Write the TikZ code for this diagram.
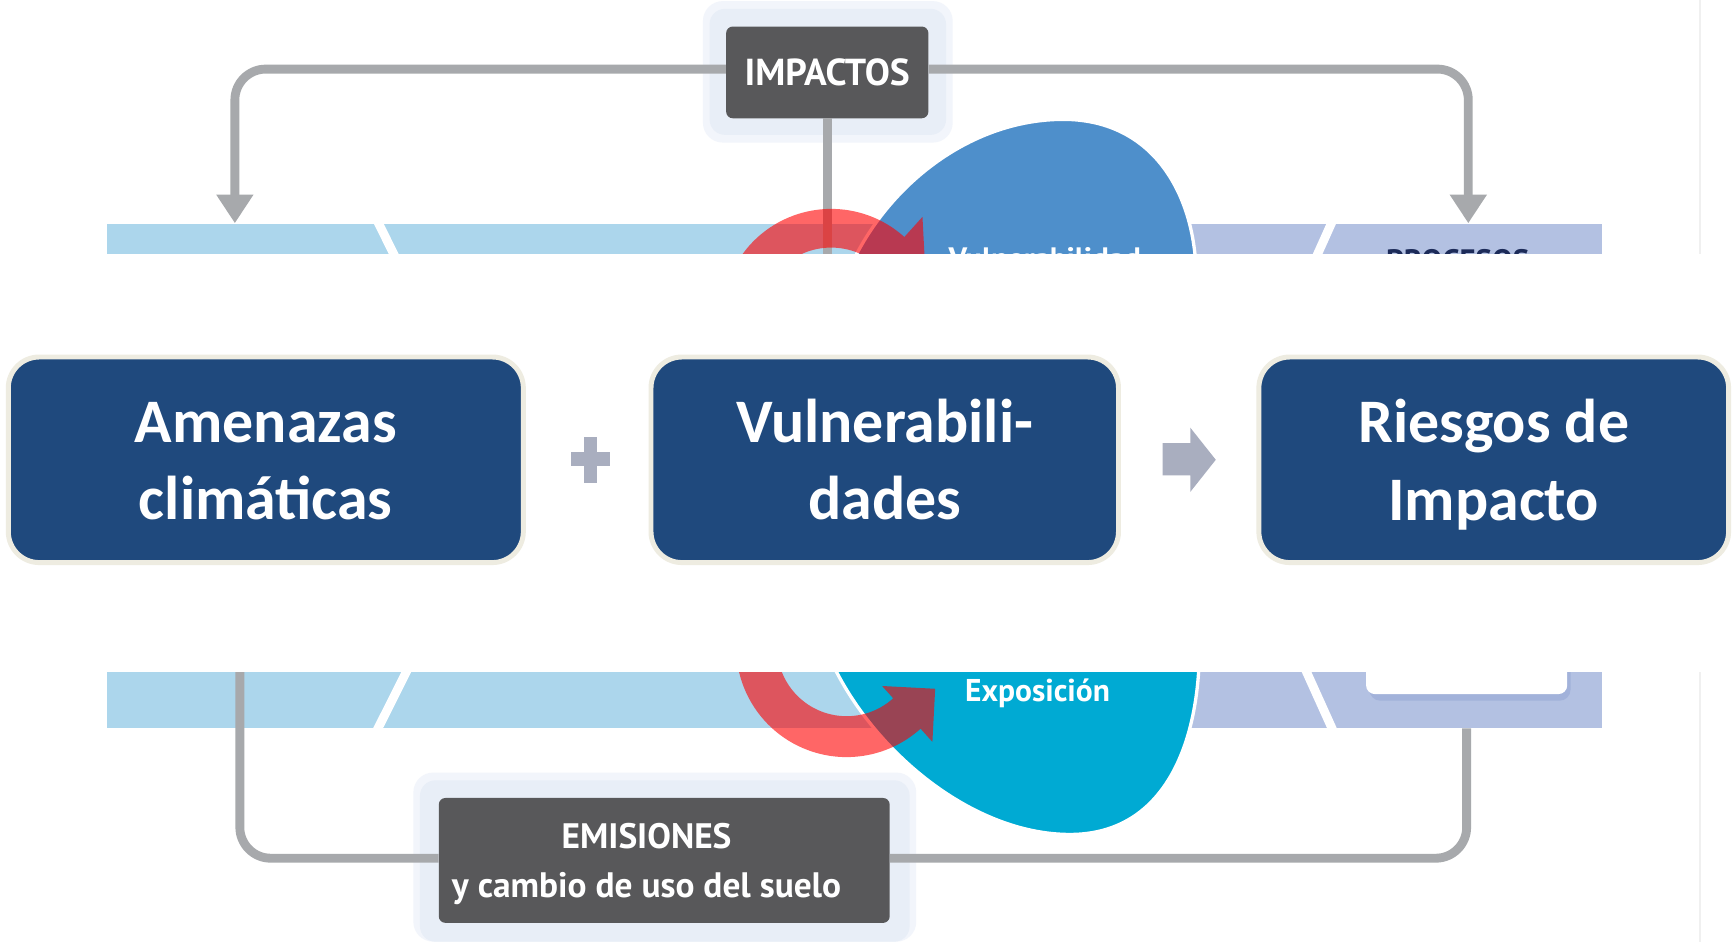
\documentclass[tikz,border=0pt]{standalone}
\usepackage{fontspec}
\newfontfamily\calib{Carlito}
\newfontfamily\pts{PT Sans}
\usetikzlibrary{arrows.meta,calc}
\definecolor{cLine}{HTML}{A7A9AC}
\definecolor{cDark}{HTML}{58585A}
\definecolor{cGlow}{HTML}{E8EEF7}
\definecolor{cGlowB}{HTML}{F2F5FB}
\definecolor{cBand}{HTML}{ACD6EC}
\definecolor{cLav}{HTML}{B3C1E2}
\definecolor{cShadow}{HTML}{A2B2DA}
\definecolor{cBlue}{HTML}{4E8FCB}
\definecolor{cCyan}{HTML}{00AAD3}
\definecolor{cNavy}{HTML}{1F497D}
\definecolor{cRim}{HTML}{EEECE1}
\definecolor{cPlus}{HTML}{A9AEBF}
\definecolor{cText}{HTML}{1C2B59}
\definecolor{cFaint}{HTML}{F0F0F0}
\begin{document}
\begin{tikzpicture}[x=1pt,y=-1pt,line join=round,
  connector/.style={draw=cLine,line width=8pt},
  darkbox/.style={fill=cDark,rounded corners=6pt,text=white,inner sep=0pt,align=center,
    font=\pts\bfseries\fontsize{34}{40}\selectfont},
  glowbox/.style={fill=cGlow,rounded corners=14pt},
  bigbox/.style={fill=cNavy,draw=cRim,line width=4.5pt,rounded corners=28pt,
    minimum height=186pt,text=white,inner sep=0pt,align=center,
    font=\calib\bfseries\fontsize{56}{70}\selectfont},
  hazard/.style={fill=red,fill opacity=0.6},
  sepline/.style={draw=white,line width=8pt},
  blob/.style={draw=white,line width=3pt}
]
\useasboundingbox (0,0) rectangle (1568,852);
\fill[white] (0,0) rectangle (1568,852);
\draw[cFaint,line width=1.5pt] (1538,0) -- (1538,852);

% bands
\fill[cBand] (97,203) rectangle (1000,659);
\fill[cLav] (1000,203) rectangle (1449,659);
\draw[sepline] (341,199) -- (456,431.5) -- (340,663);
\draw[sepline] (1206,199) -- (1102,430.5) -- (1207,663);
\fill[cShadow,rounded corners=10pt] (1239,560) rectangle (1421,634);
\fill[white,rounded corners=8pt] (1236,555) rectangle (1418,628);

% glows and dark boxes
\fill[cGlowB,rounded corners=18pt] (636,1) rectangle (862,129);
\fill[glowbox] (642,8) rectangle (856,122);
\fill[cGlowB,rounded corners=18pt] (374,699) rectangle (829,852);
\fill[glowbox] (380,706) rectangle (823,852);
\node[darkbox,minimum width=183pt,minimum height=83pt] (imp) at (748.5,65.5) {IMPACTOS};
\node[darkbox,minimum width=408pt,minimum height=113pt,
  font=\pts\bfseries\fontsize{32}{43.7}\selectfont] (emi) at (601,778.5)
  {EMISIONES\hspace*{32pt}\\\raisebox{0pt}[\height][0pt]{y cambio de uso del suelo}\hspace*{32pt}};

% connectors
\coordinate (tipL) at (212.5,202);
\coordinate (tipR) at (1328.5,202);
\coordinate (vend) at (748.5,245);
\coordinate (bl) at (217,590);
\coordinate (br) at (1327,659);
\draw[connector,rounded corners=28pt,-{Triangle[width=32pt,length=26pt]}] ([yshift=3pt]imp.west) -| (tipL);
\draw[connector,rounded corners=28pt,-{Triangle[width=32pt,length=26pt]}] ([yshift=3pt]imp.east) -| (tipR);
\draw[connector] (imp.south) -- (vend);
\draw[connector,rounded corners=28pt] ([yshift=2pt]emi.west) -| (bl);
\draw[connector,rounded corners=28pt] ([yshift=2pt]emi.east) -| (br);

% blobs
\filldraw[blob,fill=cBlue] (770,240) .. controls (805,165) and (880,108) .. (962,108)
  .. controls (1040,108) and (1078,170) .. (1082,240) -- cycle;
\filldraw[blob,fill=cCyan] (752,598) .. controls (790,680) and (880,755) .. (968,755)
  .. controls (1050,755) and (1082,680) .. (1085,598) -- cycle;

% hazard arrows
\coordinate (hzA) at (752,288);
\fill[hazard] ([shift={(160:99)}]hzA) arc[start angle=160,end angle=312,radius=99]
  -- ([shift={(312:123.5)}]hzA) -- ($(hzA)+(312:81.5)+(42:42)$)
  -- ([shift={(312:39.5)}]hzA) -- ([shift={(312:64)}]hzA)
  arc[start angle=312,end angle=160,radius=64] -- cycle;
\coordinate (hzB) at (766,585);
\fill[hazard] ([shift={(200:100)}]hzB) arc[start angle=200,end angle=48,radius=100]
  -- ([shift={(48:116)}]hzB) -- ($(hzB)+(48:82)+(-42:34)$)
  -- ([shift={(48:48)}]hzB) -- ([shift={(48:63)}]hzB)
  arc[start angle=48,end angle=200,radius=63] -- cycle;

% texts in the background figure
\node[anchor=north west,inner sep=0pt,text=white,font=\pts\bfseries\fontsize{28}{30}\selectfont] (vul) at (858,223.5) {Vulnerabilidad};
\node[anchor=north west,inner sep=0pt,text=cText,font=\pts\bfseries\fontsize{28}{30}\selectfont] (proc) at (1254,225) {PROCESOS};
\node[anchor=base west,inner sep=0pt,text=white,font=\pts\bfseries\fontsize{28.5}{34}\selectfont] (expo) at (873,635) {Exposición};

% overlay band
\fill[white] (0,230) rectangle (1568,608.3);

% main boxes
\node[bigbox,minimum width=466pt] (amen) at (240.5,416) {\vphantom{l}Amenazas\\climáticas};
\node[bigbox,minimum width=423pt] (vuln) at (800.5,416) {Vulnerabili-\\dades};
\node[bigbox,minimum width=425pt] (ries) at (1351.5,416) {Riesgos de\\\raisebox{0pt}[\height][0pt]{Impacto}};

% plus sign and block arrow
\fill[cPlus] (528,395) rectangle (540,437);
\fill[cPlus] (517,409) rectangle (552,422);
\fill[cPlus] (1052,401) -- (1077,401) -- (1077,387) -- (1100,416) -- (1077,445) -- (1077,430) -- (1052,430) -- cycle;
\end{tikzpicture}
\end{document}
